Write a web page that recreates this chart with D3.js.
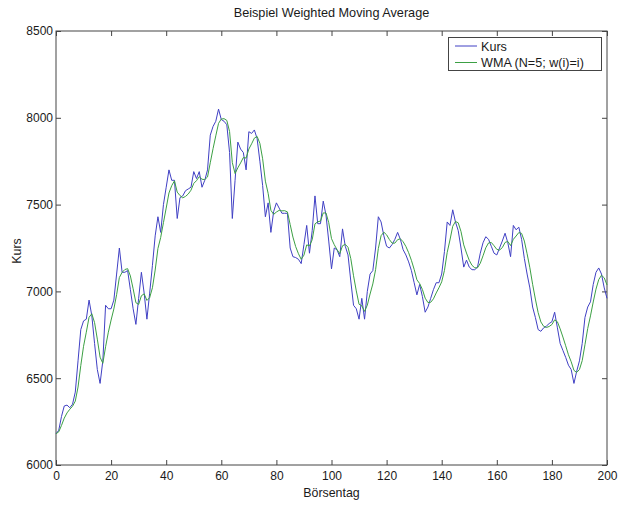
<!DOCTYPE html>
<html><head><meta charset="utf-8">
<script src="https://cdn.jsdelivr.net/npm/d3@7"></script>
<style>
body{margin:0;background:#fff}
text{font-family:"Liberation Sans",Arial,sans-serif;fill:#1a1a1a}
</style>
</head><body>
<svg id="chart" width="619" height="505"></svg>
<script>
// Closing prices per trading day (0..200)
const kurs = [6180,6200,6280,6340,6345,6330,6350,6420,6600,6780,
6830,6840,6950,6860,6700,6550,6470,6600,6920,6900,
6900,6950,7100,7250,7110,7110,7120,7010,6900,6810,
6960,7110,6990,6840,6990,7150,7320,7430,7340,7500,
7600,7700,7640,7640,7420,7540,7550,7580,7590,7600,
7690,7650,7690,7600,7640,7700,7900,7950,7980,8050,
7990,7980,7960,7800,7420,7640,7860,7820,7800,7700,
7920,7910,7930,7880,7750,7610,7430,7510,7340,7460,
7510,7480,7450,7450,7450,7250,7200,7195,7185,7160,
7270,7380,7220,7350,7550,7390,7390,7520,7440,7290,
7130,7250,7240,7200,7360,7260,7210,7060,6920,6900,
6840,6960,6840,7000,7100,7120,7250,7430,7400,7320,
7260,7250,7270,7300,7340,7300,7240,7210,7170,7120,
7050,6980,7040,6970,6880,6910,6960,7010,7050,7050,
7100,7230,7400,7380,7470,7400,7350,7250,7140,7180,
7140,7125,7125,7140,7220,7280,7315,7300,7260,7220,
7210,7250,7290,7335,7280,7200,7380,7355,7370,7300,
7190,7100,7020,6910,6850,6780,6770,6790,6800,6815,
6825,6880,6790,6700,6660,6620,6575,6550,6470,6540,
6600,6700,6850,6910,6940,7040,7110,7135,7100,7020,
6960];

// Weighted moving average, N=5, weights 1..5 (newest weighted most)
const wma = [6180,6191,6228,6270,6300,6321,6338,6368,6449,6573,
6684,6765,6851,6871,6820,6725,6621,6586,6681,6765,
6835,6899,6981,7080,7110,7126,7131,7089,7015,6935,
6925,6975,6986,6948,6964,7021,7123,7247,7311,7396,
7480,7567,7609,7637,7572,7552,7539,7547,7561,7583,
7622,7638,7661,7646,7644,7659,7741,7822,7896,7968,
7993,7995,7985,7921,7742,7679,7712,7740,7771,7768,
7820,7850,7883,7893,7853,7764,7635,7565,7467,7444,
7457,7467,7464,7465,7458,7385,7313,7258,7217,7185,
7209,7268,7262,7298,7389,7401,7405,7452,7452,7396,
7304,7269,7241,7217,7263,7271,7254,7189,7090,7003,
6926,6917,6885,6921,6985,7043,7125,7247,7321,7341,
7326,7299,7278,7278,7298,7303,7286,7259,7223,7179,
7127,7067,7045,7011,6961,6936,6937,6957,6991,7021,
7055,7121,7225,7296,7375,7403,7395,7345,7268,7221,
7179,7150,7136,7136,7162,7205,7251,7279,7282,7263,
7242,7238,7252,7282,7288,7264,7300,7319,7339,7334,
7290,7217,7136,7041,6956,6878,6824,6799,6792,6798,
6809,6836,6825,6784,6737,6687,6635,6595,6545,6533,
6550,6601,6693,6786,6859,6939,7013,7068,7093,7078,
7037];

const xTicks = [0,20,40,60,80,100,120,140,160,180,200];
const yTicks = [6000,6500,7000,7500,8000,8500];
const seriesNames = ["Kurs","WMA (N=5; w(i)=i)"];

const svg = d3.select("#chart");
const m = {left:56, top:31, right:607, bottom:465};
const x = d3.scaleLinear().domain([0,200]).range([m.left,m.right]);
const y = d3.scaleLinear().domain([6000,8500]).range([m.bottom,m.top]);
const axisCol = "#444";
const tl = 5;
const fs = "12px";

// frame
svg.append("rect").attr("x",m.left).attr("y",m.top)
  .attr("width",m.right-m.left).attr("height",m.bottom-m.top)
  .attr("fill","none").attr("stroke",axisCol).attr("stroke-width",1);

function styleAxis(g){
  g.select(".domain").remove();
  g.selectAll(".tick line").attr("stroke",axisCol);
  g.selectAll(".tick text").style("font-size",fs).attr("fill","#1a1a1a");
}

// bottom / top / left / right axes, ticks pointing inward
svg.append("g").attr("transform",`translate(0,${m.bottom})`)
  .call(d3.axisBottom(x).tickValues(xTicks).tickSizeInner(-tl).tickSizeOuter(0).tickPadding(6.5))
  .call(styleAxis);
svg.append("g").attr("transform",`translate(0,${m.top})`)
  .call(d3.axisTop(x).tickValues(xTicks).tickSizeInner(-tl).tickSizeOuter(0).tickFormat(""))
  .call(styleAxis);
svg.append("g").attr("transform",`translate(${m.left},0)`)
  .call(d3.axisLeft(y).tickValues(yTicks).tickFormat(d3.format("d")).tickSizeInner(-tl).tickSizeOuter(0).tickPadding(3))
  .call(styleAxis);
svg.append("g").attr("transform",`translate(${m.right},0)`)
  .call(d3.axisRight(y).tickValues(yTicks).tickSizeInner(-tl).tickSizeOuter(0).tickFormat(""))
  .call(styleAxis);

const line = d3.line().x((d,i)=>x(i)).y(d=>y(d));
const colors = ["#4040c4","#3ca044"];

svg.append("path").datum(kurs).attr("d",line)
  .attr("fill","none").attr("stroke",colors[0]).attr("stroke-width",1);
svg.append("path").datum(wma).attr("d",line)
  .attr("fill","none").attr("stroke",colors[1]).attr("stroke-width",1);

// title and axis labels
svg.append("text").attr("x",(m.left+m.right)/2).attr("y",17).attr("text-anchor","middle")
  .style("font-size","12.7px").text("Beispiel Weighted Moving Average");
svg.append("text").attr("x",(m.left+m.right)/2).attr("y",497).attr("text-anchor","middle")
  .style("font-size","12.4px").text("Börsentag");
svg.append("text").attr("transform",`translate(20.5,${(m.top+m.bottom)/2+3}) rotate(-90)`)
  .attr("text-anchor","middle").style("font-size","12.4px").text("Kurs");

// legend
const lg = svg.append("g");
lg.append("rect").attr("x",448.5).attr("y",37.5).attr("width",153).attr("height",33)
  .attr("fill","#fff").attr("stroke",axisCol).attr("stroke-width",1);
seriesNames.forEach((n,i)=>{
  const yy = 46 + i*16.5;
  lg.append("line").attr("x1",455).attr("x2",477).attr("y1",yy).attr("y2",yy)
    .attr("stroke",colors[i]).attr("stroke-width",1);
  lg.append("text").attr("x",481).attr("y",yy+4.5).style("font-size","12.6px").text(n);
});
</script></body></html>
